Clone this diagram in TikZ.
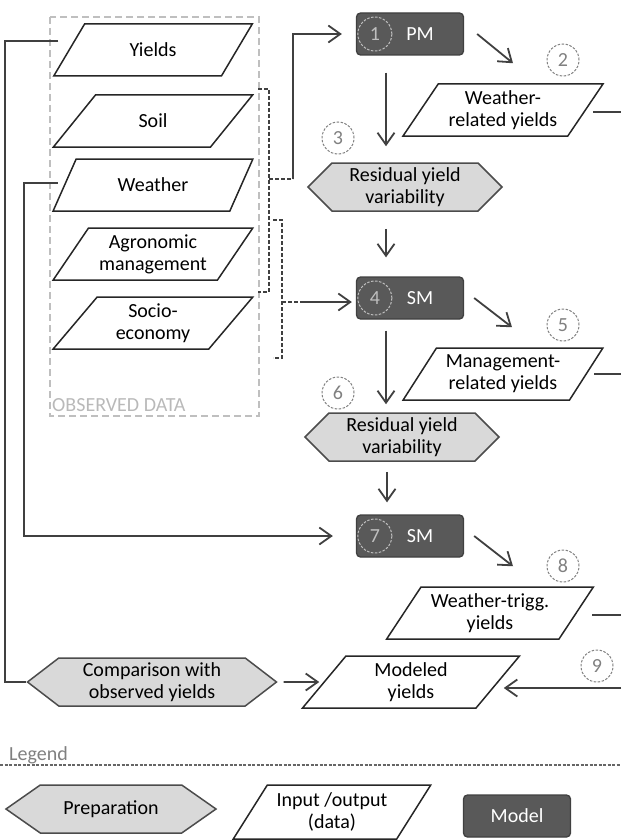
\documentclass[tikz,border=0pt]{standalone}
\usepackage{fontspec}
\setmainfont{Carlito}
\usepackage{tikz}
\usetikzlibrary{positioning}
\usetikzlibrary{arrows.meta}
\usetikzlibrary{shapes.geometric,shapes.symbols}
\definecolor{modelgray}{HTML}{595959}
\definecolor{prepgray}{HTML}{D9D9D9}
\definecolor{linegray}{HTML}{404040}
\newcommand{\diafont}{\fontsize{20}{22}\selectfont}
\tikzset{io node/.style={trapezium,trapezium left angle=53,trapezium right angle=127,trapezium stretches=true,draw=black!85,line width=1.5pt,fill=white,minimum width=200pt,minimum height=52pt,inner sep=0pt,align=center,font=\diafont},
  prep node/.style={signal,signal to=east and west,signal pointer angle=90,draw=black!70,line width=1.5pt,fill=prepgray,minimum width=194pt,minimum height=48pt,inner sep=0pt,align=center,font=\diafont},
  model node/.style={rectangle,rounded corners=4pt,fill=modelgray,draw=black!75,line width=1.3pt,text=white,minimum width=107pt,minimum height=42pt,inner sep=0pt,font=\diafont},
  model num/.style={circle,draw=gray!50,dash pattern=on 2.5pt off 1.5pt,line width=1pt,text=gray!50,minimum size=34pt,inner sep=0pt,font=\diafont},
  step num/.style={circle,draw=gray,dash pattern=on 2.5pt off 1.5pt,line width=1pt,text=gray,minimum size=32pt,inner sep=0pt,font=\diafont},
  conn/.style={draw=linegray,line width=1.8pt},
  brk/.style={draw=linegray,line width=1.5pt,dash pattern=on 4pt off 2pt},
}

\begin{document}
\begin{tikzpicture}[x=1pt,y=-1pt,>={Straight Barb[length=12pt,width=17pt]}]
	\useasboundingbox (0,0) rectangle (621,840);
	\coordinate (redge) at (621,0);

	% observed data
	\draw[draw=gray!50,line width=1.6pt,dash pattern=on 7pt off 4pt] (50,17) rectangle (259,416);
	\node[anchor=base west,inner sep=0pt,text=gray!55,font=\diafont] (obs) at (52,411) {OBSERVED DATA};
	\node[io node] (yields) at (153,50) {Yields};
	\node[io node] (soil) at (153,121) {Soil};
	\node[io node] (weather) at (153,185) {Weather};
	\node[io node] (agro) at (153,254) {Agronomic\\management};
	\node[io node] (socio) at (153,323) {Socio-\\economy};

	% models and steps
	\node[model node] (pm) at (410,34) {\hspace*{20pt}PM};
	\node[model num] (pmnum) at ([xshift=19pt]pm.west) {1};
	\node[io node] (wry) at (503,110) {Weather-\\related yields};
	\node[prep node] (res1) at (405,187) {Residual yield\\variability};
	\node[model node] (sm1) at (410,298) {\hspace*{20pt}SM};
	\node[model num] (sm1num) at ([xshift=19pt]sm1.west) {4};
	\node[io node] (mry) at (503,374) {Management-\\related yields};
	\node[prep node] (res2) at (402,437) {Residual yield\\variability};
	\node[model node] (sm2) at (410,536) {\hspace*{20pt}SM};
	\node[model num] (sm2num) at ([xshift=19pt]sm2.west) {7};
	\node[io node,minimum width=207pt] (wty) at (490,613) {Weather-trigg.\\yields};
	\node[io node,trapezium left angle=58,trapezium right angle=122,minimum width=217pt] (modeled) at (411,682) {Modeled\\yields};
	\node[prep node,minimum width=249pt,signal pointer angle=75] (comp) at (152,682) {Comparison with\\observed yields};

	\node[step num] (n2) at (563,60) {2};
	\node[step num] (n3) at (338,138) {3};
	\node[step num] (n5) at (563,325) {5};
	\node[step num] (n6) at (338,393) {6};
	\node[step num] (n8) at (563,566) {8};
	\node[step num] (n9) at (597,666) {9};

	% brackets
	\coordinate (b1top) at (258,89);
	\coordinate (b1bot) at (258,292);
	\coordinate (b1mid) at (269,179);
	\coordinate (b1j) at (293,179);
	\coordinate (b2top) at (273,220);
	\coordinate (b2bot) at (273,358);
	\coordinate (b2mid) at (282,302);
	\coordinate (b2j) at (302,302);
	\draw[brk] (b1top) -- (b1top -| b1mid) -- (b1bot -| b1mid) -- (b1bot);
	\draw[brk] (b2top) -- (b2top -| b2mid) -- (b2bot -| b2mid) -- (b2bot);
	\draw[brk] (b1mid) -- (b1j);
	\draw[brk] (b2mid) -- (b2j);

	% connectors
	\draw[conn,->] (b1j) |- ([xshift=-14pt]pm.west);
	\draw[conn,->,shorten >=4pt] (b2j) -- (b2j -| sm1.west);
	\draw[conn] ([xshift=-10pt,yshift=9pt]yields.west) -- ++(-53,0) |- (comp.west);
	\draw[conn,->] ([xshift=-6pt,yshift=2pt]weather.west) -- ++(-34,0) |- ([xshift=-23pt]sm2.west);
	\draw[conn,->] ([xshift=13pt]pm.east) -- ([xshift=10pt,yshift=20pt]wry.north);
	\draw[conn,->] ([xshift=-24pt,yshift=-17pt]pm.south) -- ([xshift=-19pt,yshift=16pt]res1.north);
	\draw[conn,->] ([xshift=-19pt,yshift=-17pt]res1.south) -- ([xshift=-24pt,yshift=19pt]sm1.north);
	\draw[conn,->] ([xshift=10pt]sm1.east) -- ([xshift=9pt,yshift=20pt]mry.north);
	\draw[conn,->] ([xshift=-24pt,yshift=-11pt]sm1.south) -- ([xshift=-16pt,yshift=8pt]res2.north);
	\draw[conn,->] ([xshift=-15pt,yshift=-10pt]res2.south) -- ([xshift=-23pt,yshift=12pt]sm2.north);
	\draw[conn,->] ([xshift=10pt]sm2.east) -- ([xshift=23pt,yshift=20pt]wty.north);
	\draw[conn] ([xshift=7pt,yshift=-2pt]wry.east) coordinate (o1) -- (o1 -| redge);
	\draw[conn] ([xshift=7pt]mry.east) coordinate (o2) -- (o2 -| redge);
	\draw[conn] ([xshift=15pt,yshift=-2pt]wty.east) coordinate (o3) -- (o3 -| redge);
	\coordinate (m9) at ([xshift=5pt,yshift=-6pt]modeled.east);
	\draw[conn,->] (m9 -| redge) -- (m9);
	\draw[conn,->] ([xshift=6pt]comp.east) -- ([xshift=-4pt]modeled.west);

	% legend
	\node[anchor=base west,inner sep=0pt,text=gray,font=\diafont] (legend) at (9,760) {Legend};
	\draw[draw=black!60,line width=1.3pt,dash pattern=on 3pt off 1.5pt] (0,765) -- (621,765);
	\node[prep node,minimum width=210pt,signal pointer angle=70] (prepleg) at (111,809) {Preparation};
	\node[io node,minimum width=198pt,minimum height=54pt] (ioleg) at (332,812) {Input /output\\(data)};
	\node[model node] (modleg) at (517,816) {Model};
\end{tikzpicture}
\end{document}
